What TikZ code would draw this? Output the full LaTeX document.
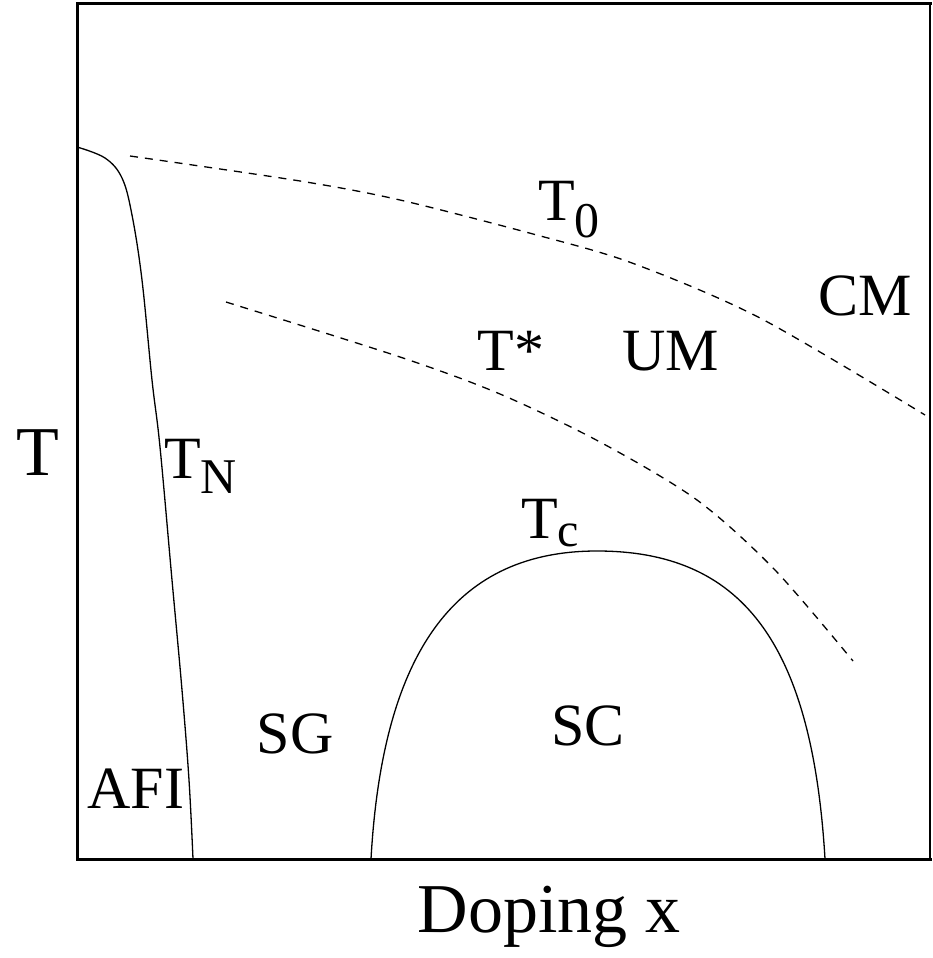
\documentclass[tikz,border=0pt]{standalone}
\usepackage{fontspec}
\setmainfont{Liberation Serif}
\newcommand{\lowsub}[3]{\raisebox{-#1pt}{\fontsize{#2}{#2}\selectfont #3}}
\begin{document}
\begin{tikzpicture}[x=1pt,y=-1pt,
  lbl/.style={inner sep=0pt,anchor=base,font=\fontsize{60}{60}\selectfont},
  axlbl/.style={inner sep=0pt,anchor=base,font=\fontsize{70}{70}\selectfont},
  phase/.style={line width=1.3pt,line join=round},
  cross/.style={line width=1.3pt,dash pattern=on 8pt off 7pt}]
\useasboundingbox (0,0) rectangle (932,958);
% frame
\draw[line width=3pt,line cap=rect] (930,4) -- (77,4) -- (77,859) -- (930,859);
\draw[line width=1.2pt] (930,4) -- (930,859);
% T_N line
\draw[phase] plot[smooth,tension=0.6] coordinates {(77,147) (105,158) (122,178) (132,215) (142,280) (152,380) (160,447) (172,580) (182,690) (189,780) (193,859)};
% SC dome
\coordinate (scl) at (371,859);
\coordinate (sctop) at (597,551);
\coordinate (scr) at (825,859);
\draw[phase] (scl) .. controls (383,645) and (460,551) .. (sctop)
  .. controls (740,551) and (812,640) .. (scr);
% T0 crossover
\draw[cross] plot[smooth] coordinates {(130,156) (300,181) (400,200) (533,234) (632,263) (760,318) (925,415)};
% T* crossover
\draw[cross] plot[smooth] coordinates {(226,302) (400,357) (500,394) (600,442) (697,500) (775,570) (853,661)};
% labels
\node[axlbl] (tl) at (38,475) {T};
\node[axlbl] (dx) at (549,932) {Doping x};
\node[lbl,anchor=base west] (t0) at (538,220) {T\lowsub{17}{50}{0}};
\node[lbl] (cm) at (865,315) {CM};
\node[lbl] (um) at (671,370) {UM};
\node[lbl] (ts) at (511,370) {T*};
\node[lbl,anchor=base west] (tn) at (164,478) {T\lowsub{15}{50}{N}};
\node[lbl,anchor=base west] (tc) at (521,538) {T\lowsub{8}{48}{c}};
\node[lbl] (sc) at (588,745) {SC};
\node[lbl] (sg) at (295,753) {SG};
\node[lbl] (afi) at (136,808) {AFI};
\end{tikzpicture}
\end{document}
